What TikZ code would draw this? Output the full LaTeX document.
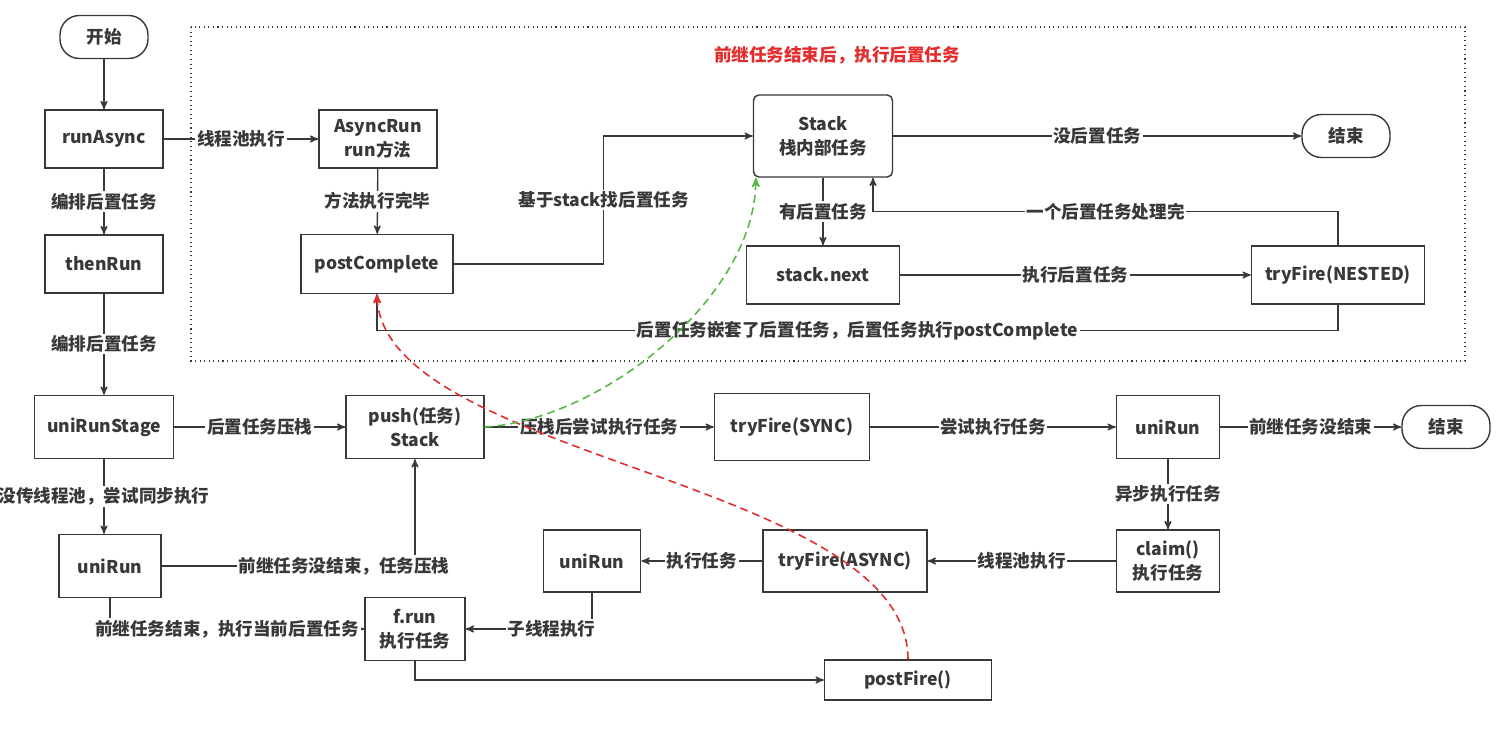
\documentclass[tikz,border=0pt]{standalone}
\usepackage{fontspec}
\setmainfont{Noto Sans CJK SC}
\usepackage{tikz}
\usetikzlibrary{arrows,calc,positioning,shapes}
\definecolor{my_black}{RGB}{56, 56, 56}
\definecolor{my_red}{RGB}{228, 44, 44}
\definecolor{my_green}{RGB}{88, 182, 72}
\tikzset{
  flownode/.style = {align=center, inner sep=2pt, rectangle, draw=my_black, line width=0.8pt,
  fill=white, text=my_black, font=\fontsize{10}{13.5}\selectfont\bfseries},
  box_n/.style = {flownode, minimum width=2.36cm, minimum height=1.16cm},
  box_r/.style = {flownode, rounded corners=11pt, minimum width=1.76cm, minimum height=0.86cm},
  edge_l/.style = {fill=white, inner sep=1pt, text=my_black, font=\fontsize{10}{12}\selectfont\bfseries}
}

\begin{document}
\begin{tikzpicture}[x=0.02cm,y=-0.02cm,->,>=stealth',color=my_black,line width=0.75pt,
        	curve/.style={line width=0.9pt, dash pattern=on 4.5pt off 2.8pt}]
    \useasboundingbox (0,0) rectangle (1498,736);
    % dotted frame round the postComplete part
    \draw[-, dotted, line width=0.6pt] (191,27) rectangle (1465,361);
    \node[edge_l, text=my_red, fill=none] (title) at (837,55) {前继任务结束后，执行后置任务};

    \node[box_r] (start) at (104,37) {开始};
    \node[box_n] (runasync) at (104,139) {runAsync};
    \node[box_n] (thenrun) at (104,264) {thenRun};
    \node[box_n, minimum width=2.78cm, minimum height=1.26cm] (unirunstage) at (104,427) {uniRunStage};
    \node[box_n, minimum width=2.04cm, minimum height=1.26cm] (unirun_l) at (110,566) {uniRun};
    \node[box_n, minimum width=2.76cm, minimum height=1.26cm] (push) at (415,427) {push(任务)\\Stack};
    \node[box_n, minimum width=2cm, minimum height=1.26cm] (frun) at (415,629) {f.run\\执行任务};
    \node[box_n, minimum width=3.34cm, minimum height=0.8cm] (postfire) at (908,680) {postFire()};
    \node[box_n, minimum width=1.95cm, minimum height=1.24cm] (unirun_m) at (592,561) {uniRun};
    \node[box_n, minimum width=3.28cm, minimum height=1.24cm] (tryasync) at (845,561) {tryFire(ASYNC)};
    \node[box_n, minimum width=2.06cm, minimum height=1.24cm] (claim) at (1168,561) {claim()\\执行任务};
    \node[box_n, minimum width=3.1cm, minimum height=1.34cm] (trysync) at (792,427) {tryFire(SYNC)};
    \node[box_n, minimum width=2.06cm, minimum height=1.26cm] (unirun_r) at (1168,427) {uniRun};
    \node[box_r] (end_b) at (1446,427) {结束};

    \node[box_n] (asyncrun) at (378,139) {AsyncRun\\run方法};
    \node[box_n, minimum width=3.04cm, minimum height=1.18cm] (postcomplete) at (377,264) {postComplete};
    \node[box_n, rounded corners=3pt, minimum width=2.78cm, minimum height=1.64cm] (stack) at (823,136) {Stack\\栈内部任务};
    \node[box_n, minimum width=3.06cm] (stacknext) at (823,275) {stack.next};
    \node[box_n, minimum width=3.46cm] (trynested) at (1338,275) {tryFire(NESTED)};
    \node[box_r] (end_t) at (1346,136) {结束};

    \draw (start) -- (runasync);
    \draw (runasync) -- node[edge_l]{线程池执行} (asyncrun);
    \draw (runasync) -- node[edge_l]{编排后置任务} (thenrun);
    \draw (thenrun) -- node[edge_l]{编排后置任务} (unirunstage);
    \draw (unirunstage) -- node[edge_l]{后置任务压栈} (push);
    \draw (unirunstage) -- node[edge_l]{没传线程池，尝试同步执行} (unirunstage |- unirun_l.north);
    \draw (unirun_l) -| node[edge_l, pos=0.36]{前继任务没结束，任务压栈} (push);
    \draw (unirun_l) |- node[edge_l, pos=0.73]{前继任务结束，执行当前后置任务} (frun);
    \draw (frun) |- (postfire);
    \draw (unirun_m) |- node[edge_l, pos=0.66]{子线程执行} (frun);
    \draw (tryasync) -- node[edge_l]{执行任务} (unirun_m);
    \draw (claim) -- node[edge_l]{线程池执行} (tryasync);
    \draw (unirun_r) -- node[edge_l]{异步执行任务} (claim);
    \draw (unirun_r) -- node[edge_l]{前继任务没结束} (end_b);
    \draw (trysync) -- node[edge_l]{尝试执行任务} (unirun_r);
    \draw (push) -- node[edge_l]{压栈后尝试执行任务} (trysync);

    \draw (asyncrun) -- node[edge_l]{方法执行完毕} (postcomplete);
    \draw (postcomplete.east) -- ++(150,0) |- node[edge_l, pos=0.25]{基于stack找后置任务} (stack);
    \draw (stack) -- node[edge_l]{没后置任务} (end_t);
    \draw (stack) -- node[edge_l]{有后置任务} (stacknext);
    \draw (stacknext) -- node[edge_l]{执行后置任务} (trynested);
    \draw (trynested.north) -- ++(0,-34) -| node[edge_l, pos=0.25]{一个后置任务处理完} ($(stack.south)+(50,0)$);
    \draw (trynested.south) -- ++(0,26) -| node[edge_l, pos=0.25]{后置任务嵌套了后置任务，后置任务执行postComplete} (postcomplete.south);

    % dashed jumps
    \draw[curve, my_red] (postfire.north) .. controls +(0,-180) and +(5,165) .. (postcomplete.south);
    \draw[curve, my_green] (push.east) .. controls +(116,-7) and +(0,120) .. ($(stack.south west)+(3,0)$);
\end{tikzpicture}
\end{document}
